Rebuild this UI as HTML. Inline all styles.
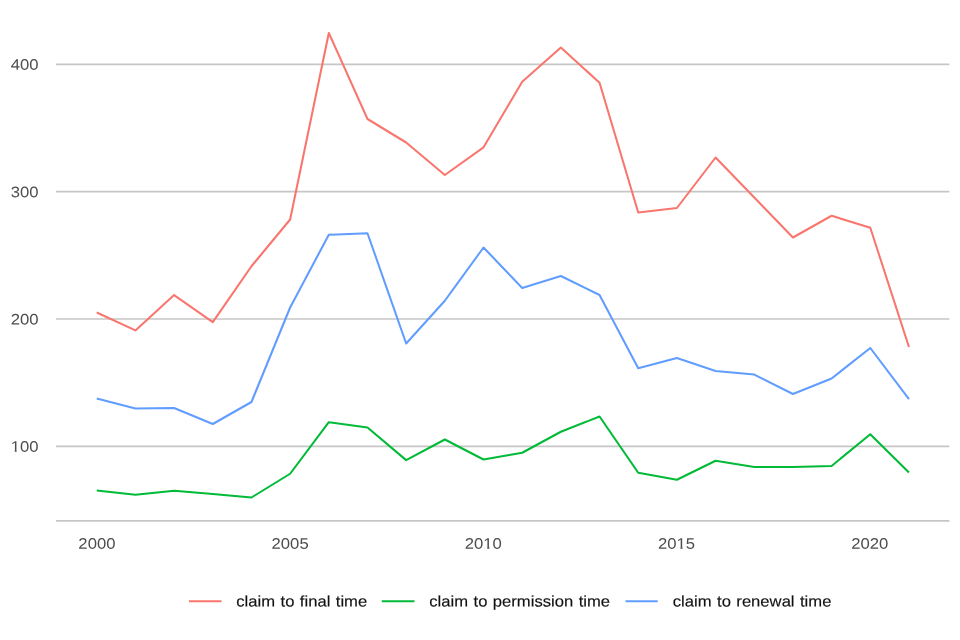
<!DOCTYPE html>
<html><head><meta charset="utf-8"><title>chart</title>
<style>
html,body{margin:0;padding:0;background:#fff;}
body{width:960px;height:640px;overflow:hidden;}
svg{display:block;}
text{font-family:"Liberation Sans",sans-serif;text-rendering:geometricPrecision;}
.ax{font-size:15.3px;fill:#4d4d4d;}
.lg{font-size:15.3px;fill:#111;stroke:#111;stroke-width:0.15px;word-spacing:0.75px;}
</style></head><body>
<svg width="960" height="640" viewBox="0 0 960 640">
<rect x="0" y="0" width="960" height="640" fill="#ffffff"/>
<line x1="56" x2="949.4" y1="64.30" y2="64.30" stroke="#c6c6c6" stroke-width="1.65"/>
<line x1="56" x2="949.4" y1="191.65" y2="191.65" stroke="#c6c6c6" stroke-width="1.65"/>
<line x1="56" x2="949.4" y1="319.00" y2="319.00" stroke="#c6c6c6" stroke-width="1.65"/>
<line x1="56" x2="949.4" y1="446.30" y2="446.30" stroke="#c6c6c6" stroke-width="1.65"/>
<line x1="56" x2="949.4" y1="520.85" y2="520.85" stroke="#c6c6c6" stroke-width="1.65"/>
<g style="opacity:0.999">
<text class="ax" text-anchor="end" transform="matrix(1.09 0.0005 0 1 38.6 69.85)">400</text>
<text class="ax" text-anchor="end" transform="matrix(1.09 0.0005 0 1 38.6 197.20)">300</text>
<text class="ax" text-anchor="end" transform="matrix(1.09 0.0005 0 1 38.6 324.55)">200</text>
<text class="ax" text-anchor="end" transform="matrix(1.09 0.0005 0 1 38.6 451.85)">100</text>
<rect x="11.2" y="449.95" width="3.5" height="2.8" fill="#ffffff"/>
<rect x="16.65" y="449.95" width="3.2" height="2.8" fill="#ffffff"/>
<text class="ax" text-anchor="middle" transform="matrix(1.09 0.0005 0 1 96.90 548.75)">2000</text>
<text class="ax" text-anchor="middle" transform="matrix(1.09 0.0005 0 1 290.12 548.75)">2005</text>
<text class="ax" text-anchor="middle" transform="matrix(1.09 0.0005 0 1 483.35 548.75)">2010</text>
<text class="ax" text-anchor="middle" transform="matrix(1.09 0.0005 0 1 676.58 548.75)">2015</text>
<text class="ax" text-anchor="middle" transform="matrix(1.09 0.0005 0 1 869.80 548.75)">2020</text>
<rect x="484.20" y="546.95" width="3.0" height="2.4" fill="#ffffff"/>
<rect x="489.40" y="546.95" width="2.9" height="2.4" fill="#ffffff"/>
<rect x="677.42" y="546.95" width="3.0" height="2.4" fill="#ffffff"/>
<rect x="682.62" y="546.95" width="2.9" height="2.4" fill="#ffffff"/>
<polyline fill="none" stroke="#F8766D" stroke-width="2.05" stroke-linejoin="round" stroke-linecap="butt" points="96.75,312.50 135.43,330.40 174.10,295.10 212.78,322.20 251.46,266.25 290.13,219.50 328.81,33.00 367.49,119.00 406.17,142.50 444.84,175.00 483.52,147.30 522.20,81.75 560.87,47.50 599.55,82.75 638.23,212.50 676.90,208.00 715.58,157.50 754.26,197.50 792.94,237.50 831.61,215.75 870.29,227.80 908.97,347.00"/>
<polyline fill="none" stroke="#00BA38" stroke-width="2.05" stroke-linejoin="round" stroke-linecap="butt" points="96.75,490.50 135.43,494.75 174.10,490.75 212.78,494.00 251.46,497.50 290.13,473.75 328.81,422.20 367.49,427.50 406.17,460.10 444.84,439.50 483.52,459.50 522.20,452.75 560.87,431.75 599.55,416.50 638.23,472.75 676.90,479.75 715.58,460.75 754.26,467.00 792.94,467.00 831.61,466.00 870.29,434.25 908.97,472.40"/>
<polyline fill="none" stroke="#619CFF" stroke-width="2.05" stroke-linejoin="round" stroke-linecap="butt" points="96.75,398.50 135.43,408.50 174.10,408.00 212.78,424.00 251.46,402.00 290.13,307.50 328.81,234.75 367.49,233.25 406.17,343.50 444.84,300.75 483.52,247.50 522.20,288.00 560.87,276.00 599.55,295.00 638.23,368.25 676.90,358.00 715.58,371.00 754.26,374.60 792.94,394.00 831.61,378.50 870.29,348.00 908.97,399.10"/>
<line x1="189" x2="221.5" y1="601.15" y2="601.15" stroke="#F8766D" stroke-width="2.05"/>
<text class="lg" transform="matrix(1.087 0.0005 0 1 236.3 606.4)">claim to final time</text>
<line x1="381.75" x2="414.5" y1="601.15" y2="601.15" stroke="#00BA38" stroke-width="2.05"/>
<text class="lg" transform="matrix(1.087 0.0005 0 1 429.3 606.4)">claim to permission time</text>
<line x1="625.5" x2="657.75" y1="601.15" y2="601.15" stroke="#619CFF" stroke-width="2.05"/>
<text class="lg" transform="matrix(1.087 0.0005 0 1 672.8 606.4)">claim to renewal time</text>
</g>
</svg>
</body></html>
